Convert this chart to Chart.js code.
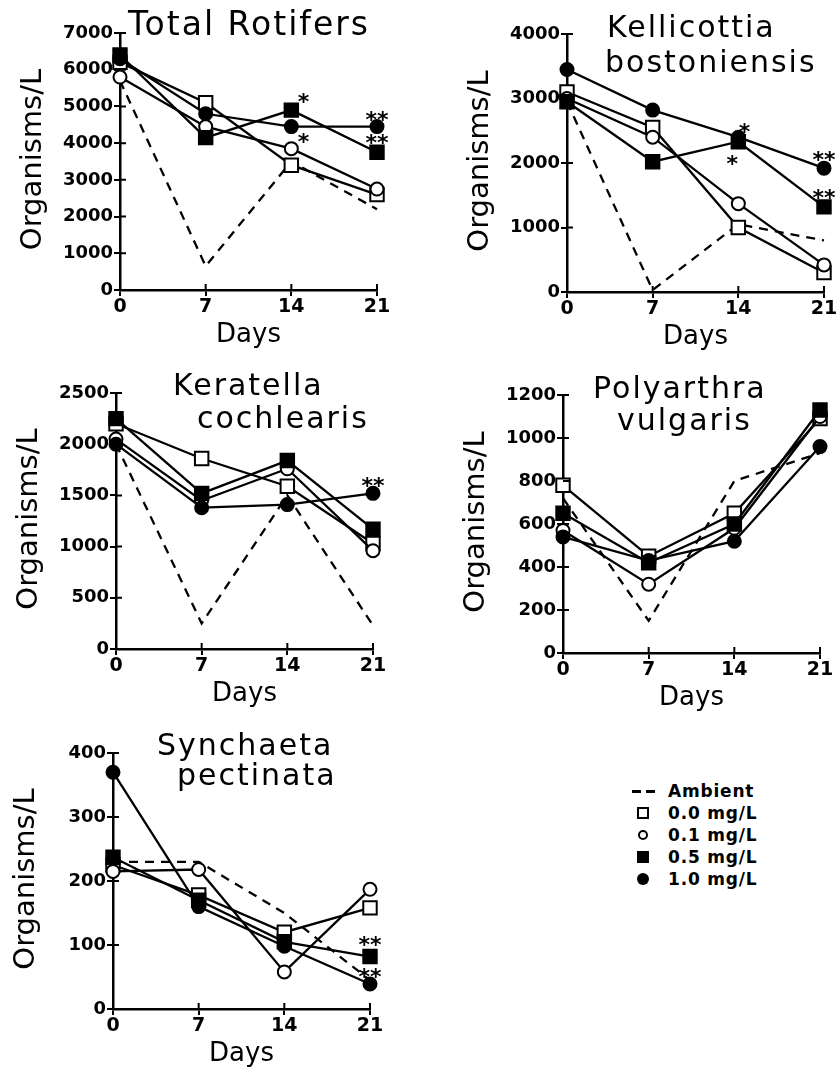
<!DOCTYPE html>
<html>
<head>
<meta charset="utf-8">
<script src="https://cdn.jsdelivr.net/npm/chart.js@4.4.1/dist/chart.umd.min.js"></script>
<style>
  body { margin: 0; background: #fff; }
  #page { position: relative; width: 838px; height: 1069px; overflow: hidden; background: #fff; }
  canvas { position: absolute; }
  .legend { position: absolute; left: 625px; top: 780px; font: bold 17px "DejaVu Sans"; letter-spacing: 0.8px; color: #000; }
  .row { position: relative; height: 22px; line-height: 22px; padding-left: 43px; }
  .mk { position: absolute; box-sizing: border-box; }
</style>
</head>
<body>
<div id="page">
  <canvas id="c1"></canvas>
  <canvas id="c2"></canvas>
  <canvas id="c3"></canvas>
  <canvas id="c4"></canvas>
  <canvas id="c5"></canvas>
  <div class="legend">
    <div class="row"><span class="mk" style="left:7px;top:10px;width:9px;height:2.5px;background:#000"></span><span class="mk" style="left:21px;top:10px;width:9px;height:2.5px;background:#000"></span>Ambient</div>
    <div class="row"><span class="mk" style="left:12px;top:5px;width:12px;height:12px;border:2px solid #000"></span>0.0 mg/L</div>
    <div class="row"><span class="mk" style="left:13px;top:6px;width:10px;height:10px;border:2px solid #000;border-radius:50%"></span>0.1 mg/L</div>
    <div class="row"><span class="mk" style="left:12px;top:5px;width:12px;height:12px;background:#000"></span>0.5 mg/L</div>
    <div class="row"><span class="mk" style="left:12px;top:5px;width:12px;height:12px;background:#000;border-radius:50%"></span>1.0 mg/L</div>
  </div>
</div>
<script>
// Dias de muestreo
const days = [0, 7, 14, 21];
const seriesNames = ['Ambient', '0.0 mg/L', '0.1 mg/L', '0.5 mg/L', '1.0 mg/L'];

// Total Rotifers
const totalAmbient = [5700, 650, 3500, 2200];
const total00 = [6200, 5100, 3400, 2600];
const total01 = [5800, 4450, 3850, 2750];
const total05 = [6400, 4150, 4900, 3750];
const total10 = [6300, 4800, 4450, 4450];
const totalTicks = [0, 1000, 2000, 3000, 4000, 5000, 6000, 7000];
const totalStars = [[15, 5250, '*'], [15, 4150, '*'], [21, 4760, '**'], [21, 4130, '**']];

// Kellicottia bostoniensis
const kelAmbient = [2950, 30, 1050, 800];
const kel00 = [3100, 2550, 1000, 300];
const kel01 = [3000, 2400, 1370, 420];
const kel05 = [2950, 2020, 2330, 1320];
const kel10 = [3450, 2820, 2400, 1920];
const kelTicks = [0, 1000, 2000, 3000, 4000];
const kelStars = [[14.5, 2550, '*'], [13.5, 2050, '*'], [21, 2120, '**'], [21, 1530, '**']];

// Keratella cochlearis
const kerAmbient = [2000, 250, 1500, 230];
const ker00 = [2200, 1860, 1590, 1030];
const ker01 = [2050, 1450, 1760, 960];
const ker05 = [2250, 1520, 1840, 1170];
const ker10 = [2000, 1380, 1410, 1520];
const kerTicks = [0, 500, 1000, 1500, 2000, 2500];
const kerStars = [[21, 1640, '**']];

// Polyarthra vulgaris
const polAmbient = [720, 150, 800, 930];
const pol00 = [780, 450, 650, 1090];
const pol01 = [570, 320, 580, 1100];
const pol05 = [650, 420, 600, 1130];
const pol10 = [540, 430, 520, 960];
const polTicks = [0, 200, 400, 600, 800, 1000, 1200];
const polStars = [];

// Synchaeta pectinata
const synAmbient = [230, 230, 150, 45];
const syn00 = [225, 178, 120, 158];
const syn01 = [215, 218, 58, 187];
const syn05 = [237, 170, 105, 82];
const syn10 = [370, 160, 98, 39];
const synTicks = [0, 100, 200, 300, 400];
const synStars = [[21, 108, '**'], [21, 58, '**']];

Chart.defaults.font.family = 'DejaVu Sans';
Chart.defaults.color = '#000';

const PAD_L = 110, PAD_T = 70, PAD_R = 14, PAD_B = 75;

// Texto del panel: titulo, eje y, eje x, asteriscos y marcas interiores
const panelText = {
    id: 'panelText',
    afterDraw(chart, args, opts) {
        const ctx = chart.ctx;
        const area = chart.chartArea;
        const xs = chart.scales.x, ys = chart.scales.y;
        ctx.save();
        ctx.strokeStyle = '#000';
        ctx.lineWidth = 2;
        ctx.beginPath();
        ys.ticks.forEach(t => {
            const y = ys.getPixelForValue(t.value);
            ctx.moveTo(area.left, y);
            ctx.lineTo(area.left + 6, y);
        });
        xs.ticks.forEach(t => {
            const x = xs.getPixelForValue(t.value);
            ctx.moveTo(x, area.bottom);
            ctx.lineTo(x, area.bottom - 6);
        });
        ctx.stroke();

        ctx.fillStyle = '#000';
        ctx.textAlign = 'left';
        ctx.textBaseline = 'alphabetic';
        ctx.font = opts.titleFont;
        ctx.letterSpacing = opts.spacing;
        opts.title.forEach(t => ctx.fillText(t[0], t[1] - opts.ox, t[2] - opts.oy));
        ctx.letterSpacing = '0px';

        ctx.font = '26px "DejaVu Sans"';
        ctx.textAlign = 'center';
        ctx.fillText('Days', (area.left + area.right) / 2, area.bottom + 52);

        ctx.save();
        ctx.translate(area.left - 87, (area.top + area.bottom) / 2 - 2);
        ctx.rotate(-Math.PI / 2);
        ctx.font = '29px "DejaVu Sans"';
        ctx.textBaseline = 'middle';
        ctx.fillText('Organisms/L', 0, 0);
        ctx.restore();

        ctx.font = 'bold 22px "DejaVu Sans"';
        ctx.textBaseline = 'middle';
        opts.stars.forEach(s => {
            ctx.fillText(s[2], xs.getPixelForValue(s[0]), ys.getPixelForValue(s[1]) + 6);
        });
        ctx.restore();
    }
};

function makeSet(label, values, style) {
    const open = style === 'openSquare' || style === 'openCircle';
    const square = style === 'openSquare' || style === 'filledSquare';
    return {
        label: label,
        data: values.map((v, i) => ({ x: days[i], y: v })),
        borderColor: '#000',
        borderWidth: 2.3,
        borderDash: style === 'dash' ? [9, 7] : [],
        pointRadius: style === 'dash' ? 0 : (square ? 9.5 : 6.5),
        pointStyle: square ? 'rect' : 'circle',
        pointBackgroundColor: open ? '#fff' : '#000',
        pointBorderColor: '#000',
        pointBorderWidth: 2,
        clip: false,
        tension: 0
    };
}

function makePanel(id, box, series, yTicks, title, titleFont, stars) {
    const canvas = document.getElementById(id);
    const left = Math.round(box[0] - PAD_L), top = Math.round(box[2] - PAD_T);
    const width = Math.round(box[1] - box[0]) + PAD_L + PAD_R;
    const height = Math.round(box[3] - box[2]) + PAD_T + PAD_B;
    canvas.width = width; canvas.height = height;
    canvas.style.left = left + 'px'; canvas.style.top = top + 'px';
    canvas.style.width = width + 'px'; canvas.style.height = height + 'px';

    new Chart(canvas.getContext('2d'), {
        type: 'line',
        data: {
            datasets: [
                makeSet(seriesNames[4], series[4], 'filledCircle'),
                makeSet(seriesNames[3], series[3], 'filledSquare'),
                makeSet(seriesNames[2], series[2], 'openCircle'),
                makeSet(seriesNames[1], series[1], 'openSquare'),
                makeSet(seriesNames[0], series[0], 'dash')
            ]
        },
        options: {
            responsive: false,
            animation: false,
            layout: { padding: { left: 0, top: PAD_T, right: PAD_R, bottom: 0 } },
            plugins: {
                legend: { display: false },
                tooltip: { enabled: false },
                panelText: { title: title, titleFont: titleFont, spacing: '2px', ox: left, oy: top, stars: stars }
            },
            scales: {
                x: {
                    type: 'linear', min: 0, max: 21,
                    afterBuildTicks: s => { s.ticks = days.map(v => ({ value: v })); },
                    afterFit: s => { s.height = PAD_B; },
                    grid: { drawOnChartArea: false, color: '#000', lineWidth: 2, tickLength: 6 },
                    border: { color: '#000', width: 2.5 },
                    ticks: { padding: 0, font: { size: 19, weight: 'bold' }, maxRotation: 0, callback: v => String(v) }
                },
                y: {
                    type: 'linear', min: 0, max: yTicks[yTicks.length - 1],
                    afterBuildTicks: s => { s.ticks = yTicks.map(v => ({ value: v })); },
                    afterFit: s => { s.width = PAD_L; },
                    grid: { drawOnChartArea: false, color: '#000', lineWidth: 2, tickLength: 6 },
                    border: { color: '#000', width: 2.5 },
                    ticks: { padding: 1, font: { size: 18, weight: 'bold' }, callback: v => String(v) }
                }
            }
        },
        plugins: [panelText]
    });
}

makePanel('c1', [120, 377, 33, 290], [totalAmbient, total00, total01, total05, total10], totalTicks,
    [['Total Rotifers', 128, 35]], '33px "DejaVu Sans"', totalStars);
makePanel('c2', [567, 824, 34, 291.5], [kelAmbient, kel00, kel01, kel05, kel10], kelTicks,
    [['Kellicottia', 607, 37], ['bostoniensis', 605, 72]], '30px "DejaVu Sans"', kelStars);
makePanel('c3', [116, 373, 393, 648.5], [kerAmbient, ker00, ker01, ker05, ker10], kerTicks,
    [['Keratella', 173, 395], ['cochlearis', 197, 428]], '30px "DejaVu Sans"', kerStars);
makePanel('c4', [563, 820, 395, 653], [polAmbient, pol00, pol01, pol05, pol10], polTicks,
    [['Polyarthra', 593, 398], ['vulgaris', 617, 430]], '30px "DejaVu Sans"', polStars);
makePanel('c5', [113, 370, 753, 1009], [synAmbient, syn00, syn01, syn05, syn10], synTicks,
    [['Synchaeta', 157, 755], ['pectinata', 177, 785]], '30px "DejaVu Sans"', synStars);
</script>
</body>
</html>
